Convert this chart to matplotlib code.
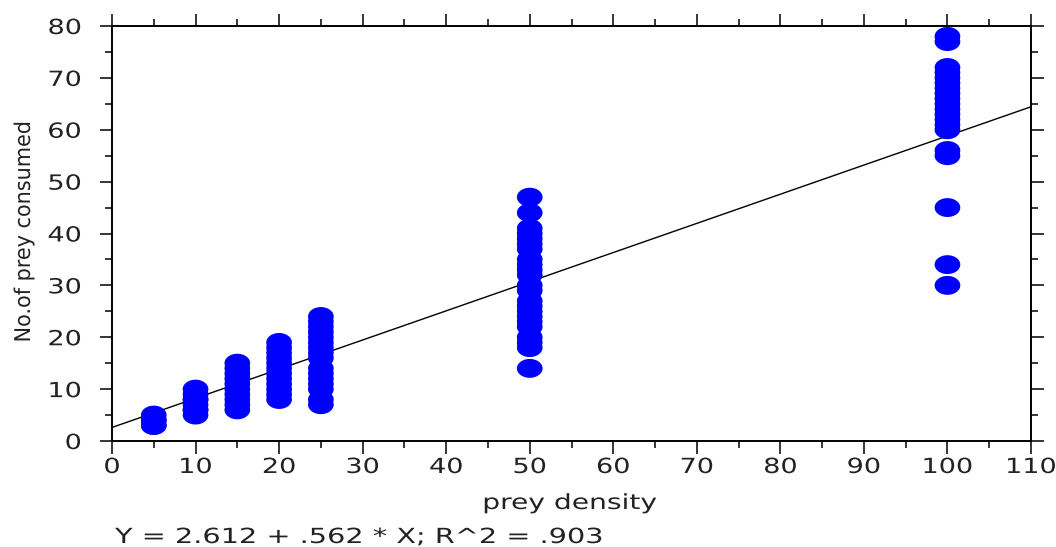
import numpy as np
import matplotlib
matplotlib.use("Agg")
import matplotlib.pyplot as plt
from matplotlib.path import Path
from matplotlib.ticker import MultipleLocator
from matplotlib.patheffects import AbstractPathEffect
from matplotlib.transforms import Affine2D

# ---- data ----
x5 = [3, 4, 5, 3, 4]
x10 = [5, 6, 7, 8, 9, 10, 6, 8]
x15 = [6, 7, 8, 9, 10, 11, 12, 13, 14, 15]
x20 = [8, 9, 10, 11, 12, 13, 14, 15, 16, 17, 18, 19]
x25 = [7, 8, 10, 11, 12, 13, 14, 16, 17, 18, 19, 20, 21, 22, 23, 24]
x50 = [14, 18, 19, 20, 22, 23, 24, 25, 26, 27, 29, 30, 32, 33, 34, 35,
       37, 38, 39, 40, 41, 44, 47]
x100 = [30, 34, 45, 55, 56, 60, 61, 62, 63, 64, 65, 66, 67, 68, 69, 70,
        71, 72, 77, 78]
densities = [5, 10, 15, 20, 25, 50, 100]
consumed = [x5, x10, x15, x20, x25, x50, x100]

intercept = 2.612
slope = 0.562

xlabel = "prey density"
ylabel = "No.of prey consumed"
caption = "Y = 2.612 + .562 * X; R^2 = .903"


class Stretch(AbstractPathEffect):
    """Draw text glyphs stretched along/across the text direction."""

    def __init__(self, sx=1.0, sy=1.0, anchor="center"):
        super().__init__()
        self.sx, self.sy, self.anchor = sx, sy, anchor

    def draw_path(self, renderer, gc, tpath, affine, rgbFace=None):
        ext = tpath.get_extents()
        if self.anchor == "left":
            cx = ext.x0
        elif self.anchor == "right":
            cx = ext.x1
        else:
            cx = 0.5 * (ext.x0 + ext.x1)
        cy = 0.5 * (ext.y0 + ext.y1)
        tr = (Affine2D().translate(-cx, -cy).scale(self.sx, self.sy)
              .translate(cx, cy) + affine)
        renderer.draw_path(gc, tpath, tr, rgbFace)


TXT = "#222222"
FS = 15
SX = 1.3

# ---- figure ----
fig = plt.figure(figsize=(10.56, 5.47), dpi=100)
ax = fig.add_axes([112 / 1056, (547 - 441) / 547, (1031 - 112) / 1056, (441 - 26) / 547])

# ellipse marker (wider than tall)
t = np.linspace(0, 2 * np.pi, 60)
verts = np.column_stack([1.36 * np.cos(t), np.sin(t)])
ell = Path(verts, closed=True)

xs, ys = [], []
for d, vals in zip(densities, consumed):
    xs += [d] * len(vals)
    ys += list(vals)

xx = np.array([0, 110])
ax.plot(xx, intercept + slope * xx, color="black", lw=1.0, zorder=2)
ax.scatter(xs, ys, marker=ell, s=18.5 ** 2, color="#0000ff", edgecolors="none",
           zorder=3, clip_on=False)

ax.set_xlim(0, 110)
ax.set_ylim(0, 80)
ax.xaxis.set_major_locator(MultipleLocator(10))
ax.xaxis.set_minor_locator(MultipleLocator(5))
ax.yaxis.set_major_locator(MultipleLocator(10))
ax.yaxis.set_minor_locator(MultipleLocator(5))

for s in ax.spines.values():
    s.set_linewidth(1.4)
    s.set_color("black")

ax.tick_params(which="both", direction="out", top=True, right=True,
               width=1.1, color="black")
ax.tick_params(which="major", length=9)
ax.tick_params(which="minor", length=5)
ax.tick_params(axis="x", which="major", pad=2.5, labelsize=FS, labelcolor=TXT)
ax.tick_params(axis="y", which="major", pad=13, labelsize=FS, labelcolor=TXT)

for lab in ax.get_xticklabels():
    lab.set_path_effects([Stretch(sx=SX, anchor="center")])
for lab in ax.get_yticklabels():
    lab.set_path_effects([Stretch(sx=SX, anchor="right")])

fig.text(570 / 1056, 1 - 503 / 547, xlabel, ha="center", va="center",
         fontsize=FS, color=TXT,
         path_effects=[Stretch(sx=1.35, anchor="center")])
fig.text(24 / 1056, 1 - 232 / 547, ylabel, ha="center", va="center",
         rotation=90, fontsize=13, color=TXT,
         path_effects=[Stretch(sx=1.15, sy=1.2, anchor="center")])
fig.text(115 / 1056, 1 - 537 / 547, caption, ha="left", va="center",
         fontsize=FS, color=TXT,
         path_effects=[Stretch(sx=1.38, anchor="left")])

fig.savefig("out.png", dpi=100)
